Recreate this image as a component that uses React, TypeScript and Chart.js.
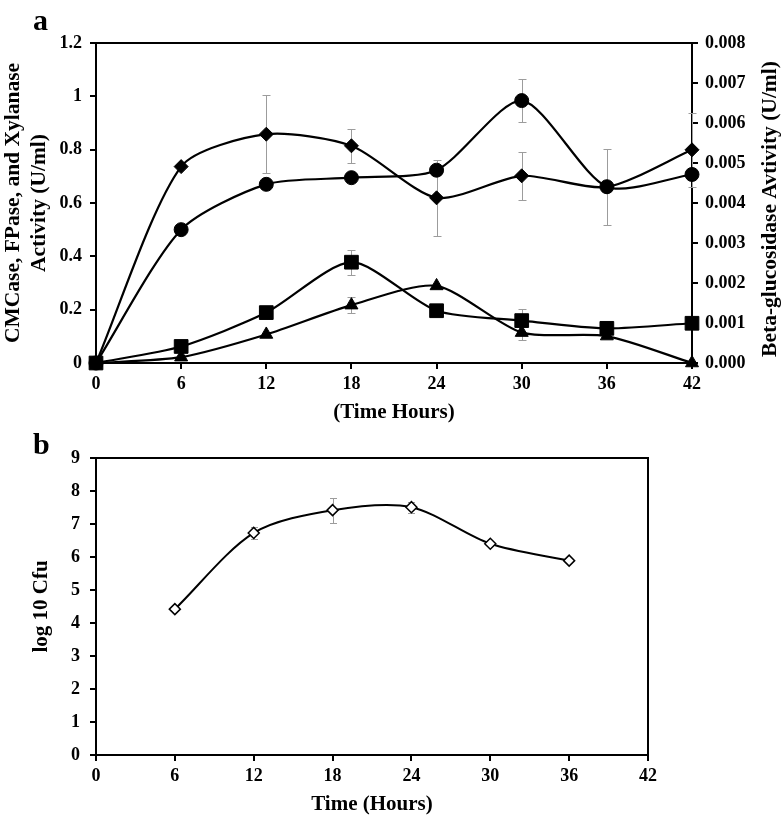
import React, { useEffect, useRef } from 'react';
import { Chart, registerables } from 'chart.js';

Chart.register(...registerables);

const FONT = '"Liberation Serif", "Times New Roman", serif';

// Panel a data
const hoursA = [0, 6, 12, 18, 24, 30, 36, 42];
// Beta-glucosidase (right axis, U/ml)
const betaVals = [0, 0.00491, 0.00572, 0.00543, 0.00413, 0.00468, 0.0044, 0.00533];
const betaErr = [null, null, 0.00098, 0.00043, 0.00095, 0.0006, 0.00095, 0.00093];
// left axis series
const circleVals = [0, 0.5, 0.67, 0.695, 0.723, 0.984, 0.661, 0.707];
const circleErr = [null, null, null, null, null, 0.082, null, null];
const squareVals = [0, 0.062, 0.189, 0.378, 0.196, 0.159, 0.13, 0.149];
const squareErr = [null, null, null, 0.047, null, 0.042, null, null];
const triangleVals = [0, 0.022, 0.107, 0.217, 0.289, 0.114, 0.101, 0];
const triangleErr = [null, null, null, 0.03, null, 0.028, null, null];

// Panel b data
const hoursB = [6, 12, 18, 24, 30, 36];
const cfuVals = [4.42, 6.73, 7.42, 7.51, 6.4, 5.89];
const cfuErr = [null, 0.17, 0.38, 0.17, 0.08, null];

const toPts = (xs: number[], ys: number[]) => xs.map((x, i) => ({ x, y: ys[i] }));

const errorBarPlugin = {
  id: 'errorBars',
  beforeDatasetsDraw(chart: any) {
    const ctx = chart.ctx;
    chart.data.datasets.forEach((ds: any, i: number) => {
      const errs = ds.errors;
      if (!errs) return;
      const meta = chart.getDatasetMeta(i);
      const xs = chart.scales[meta.xAxisID];
      const ys = chart.scales[meta.yAxisID];
      const cap = ds.capHalf || 4;
      ds.data.forEach((pt: any, j: number) => {
        const e = errs[j];
        if (e == null) return;
        const x = Math.round(xs.getPixelForValue(pt.x)) + 0.5;
        const yt = Math.round(ys.getPixelForValue(pt.y + e)) + 0.5;
        const yb = Math.round(ys.getPixelForValue(pt.y - e)) + 0.5;
        ctx.save();
        ctx.strokeStyle = '#9c9c9c';
        ctx.lineWidth = 1;
        ctx.beginPath();
        ctx.moveTo(x, yt);
        ctx.lineTo(x, yb);
        ctx.moveTo(x - cap, yt);
        ctx.lineTo(x + cap, yt);
        ctx.moveTo(x - cap, yb);
        ctx.lineTo(x + cap, yb);
        ctx.stroke();
        ctx.restore();
      });
    });
  },
};

const framePlugin = {
  id: 'frame',
  beforeDatasetsDraw(chart: any) {
    const { left, top, right, bottom } = chart.chartArea;
    const ctx = chart.ctx;
    ctx.save();
    ctx.strokeStyle = '#000';
    ctx.lineWidth = 2;
    ctx.strokeRect(left, top, right - left, bottom - top);
    ctx.restore();
  },
};

const rightTitlePlugin = {
  id: 'rightTitle',
  afterDraw(chart: any) {
    const ctx = chart.ctx;
    ctx.save();
    ctx.translate(770, 209);
    ctx.rotate(-Math.PI / 2);
    ctx.font = 'bold 21.5px ' + FONT;
    ctx.fillStyle = '#000';
    ctx.textAlign = 'center';
    ctx.textBaseline = 'middle';
    ctx.fillText('Beta-glucosidase Avtivity (U/ml)', 0, 0);
    ctx.restore();
  },
};

const tickFont = { family: FONT, size: 18, weight: 'bold' as const };
const titleFont = { family: FONT, size: 21, weight: 'bold' as const, lineHeight: 1.2 };
const gridOpts = {
  display: true,
  drawOnChartArea: false,
  drawTicks: true,
  tickLength: 6,
  color: '#000',
  lineWidth: 2,
};
const borderOpts = { display: true, color: '#000', width: 2 };

function seriesA(label: string, data: any[], errs: any[], style: string, radius: number, axis = 'y') {
  return {
    label,
    data,
    errors: errs,
    yAxisID: axis,
    xAxisID: 'x',
    borderColor: '#000',
    backgroundColor: '#000',
    borderWidth: 2.2,
    pointStyle: style,
    pointRadius: radius,
    pointBackgroundColor: '#000',
    pointBorderColor: '#000',
    pointBorderWidth: 1,
    tension: 0.25,
    fill: false,
    clip: false,
  };
}

export default function App() {
  const refA = useRef<HTMLCanvasElement>(null);
  const refB = useRef<HTMLCanvasElement>(null);

  useEffect(() => {
    Chart.defaults.color = '#000';
    Chart.defaults.font.family = FONT;

    const chartA = new Chart(refA.current as HTMLCanvasElement, {
      type: 'line',
      data: {
        datasets: [
          seriesA('Beta-glucosidase', toPts(hoursA, betaVals), betaErr, 'rectRot', 7, 'y2'),
          seriesA('CMCase', toPts(hoursA, circleVals), circleErr, 'circle', 7),
          seriesA('FPase', toPts(hoursA, squareVals), squareErr, 'rect', 9.7),
          seriesA('Xylanase', toPts(hoursA, triangleVals), triangleErr, 'triangle', 7.5),
        ] as any,
      },
      options: {
        responsive: false,
        animation: false,
        layout: { padding: { top: 43, left: 0, right: 0, bottom: 0 } },
        plugins: { legend: { display: false }, tooltip: { enabled: false } },
        scales: {
          x: {
            type: 'linear',
            min: 0,
            max: 42,
            ticks: { stepSize: 6, font: tickFont, padding: 5, color: '#000' },
            grid: gridOpts,
            border: borderOpts,
            title: { display: true, text: '(Time Hours)', font: titleFont, color: '#000', padding: { top: 0, bottom: 5 } },
            afterFit: (s: any) => { s.height = 67; },
          },
          y: {
            type: 'linear',
            position: 'left',
            min: 0,
            max: 1.2,
            ticks: {
              stepSize: 0.2,
              font: tickFont,
              padding: 8,
              color: '#000',
              callback: (v: any) => String(parseFloat(Number(v).toFixed(1))),
            },
            grid: gridOpts,
            border: borderOpts,
            title: {
              display: true,
              text: ['CMCase, FPase, and Xylanase', 'Activity (U/ml)'],
              font: { ...titleFont, size: 21.5, lineHeight: 1.22 },
              color: '#000',
              padding: { top: 0, bottom: 0 },
            },
            afterFit: (s: any) => { s.width = 96; },
          },
          y2: {
            type: 'linear',
            position: 'right',
            min: 0,
            max: 0.008,
            ticks: {
              stepSize: 0.001,
              font: tickFont,
              padding: 7,
              color: '#000',
              callback: (v: any) => Number(v).toFixed(3),
            },
            grid: gridOpts,
            border: borderOpts,
            afterFit: (s: any) => { s.width = 89; },
          },
        },
      } as any,
      plugins: [framePlugin, errorBarPlugin, rightTitlePlugin],
    });

    const chartB = new Chart(refB.current as HTMLCanvasElement, {
      type: 'line',
      data: {
        datasets: [
          {
            label: 'log 10 Cfu',
            data: toPts(hoursB, cfuVals),
            errors: cfuErr,
            capHalf: 3.5,
            borderColor: '#000',
            borderWidth: 2,
            pointStyle: 'rectRot',
            pointRadius: 5.5,
            pointBackgroundColor: '#fff',
            pointBorderColor: '#000',
            pointBorderWidth: 1.5,
            tension: 0.3,
            fill: false,
            clip: false,
          },
        ] as any,
      },
      options: {
        responsive: false,
        animation: false,
        layout: { padding: { top: 28, left: 0, right: 133, bottom: 0 } },
        plugins: { legend: { display: false }, tooltip: { enabled: false } },
        scales: {
          x: {
            type: 'linear',
            min: 0,
            max: 42,
            ticks: { stepSize: 6, font: tickFont, padding: 5, color: '#000' },
            grid: gridOpts,
            border: borderOpts,
            title: { display: true, text: 'Time (Hours)', font: titleFont, color: '#000', padding: { top: 0, bottom: 0 } },
            afterFit: (s: any) => { s.height = 62; },
          },
          y: {
            type: 'linear',
            position: 'left',
            min: 0,
            max: 9,
            ticks: { stepSize: 1, font: tickFont, padding: 10, color: '#000' },
            grid: gridOpts,
            border: borderOpts,
            title: { display: true, text: 'log 10 Cfu', font: titleFont, color: '#000', padding: { top: 29, bottom: 0 } },
            afterFit: (s: any) => { s.width = 96; },
          },
        },
      } as any,
      plugins: [framePlugin, errorBarPlugin],
    });

    return () => {
      chartA.destroy();
      chartB.destroy();
    };
  }, []);

  const letter: React.CSSProperties = {
    position: 'absolute',
    left: 33,
    font: 'bold 30px ' + FONT,
    lineHeight: '30px',
    color: '#000',
  };

  return (
    <div style={{ position: 'absolute', left: 0, top: 0, width: 781, height: 817, background: '#fff' }}>
      <canvas ref={refA} width={781} height={430} style={{ position: 'absolute', left: 0, top: 0 }} />
      <canvas ref={refB} width={781} height={387} style={{ position: 'absolute', left: 0, top: 430 }} />
      <div style={{ ...letter, top: 5 }}>a</div>
      <div style={{ ...letter, top: 429 }}>b</div>
    </div>
  );
}
